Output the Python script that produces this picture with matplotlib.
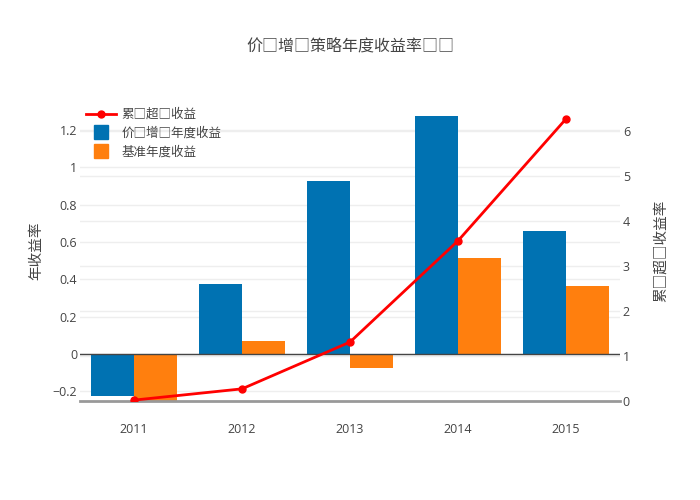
import matplotlib
matplotlib.use("Agg")
import matplotlib.pyplot as plt
from matplotlib.lines import Line2D
import numpy as np

plt.rcParams['font.family'] = ['Open Sans', 'Noto Sans CJK SC', 'DejaVu Sans']

years = ['2011', '2012', '2013', '2014', '2015']
value_growth = [-0.225, 0.375, 0.927, 1.275, 0.659]
benchmark = [-0.262, 0.07, -0.075, 0.514, 0.364]
cum_excess = [0.02, 0.27, 1.31, 3.56, 6.27]

title = "价□增□策略年度收益率□□"
name_line = "累□超□收益"
name_blue = "价□增□年度收益"
name_orange = "基准年度收益"
ylabel_left = "年收益率"
ylabel_right = "累□超□收益率"

txt = '#444444'
grid = '#eeeeee'
blue = '#0072b2'
orange = '#ff7f0e'

fig = plt.figure(figsize=(7, 5), dpi=100)
ax = fig.add_axes([80/700, 99/500, 540/700, 301/500])
ax2 = ax.twinx()

x = np.arange(len(years))
w = 0.4
ax.bar(x - w/2, value_growth, w, color=blue, zorder=2)
ax.bar(x + w/2, benchmark, w, color=orange, zorder=2)
ax.set_xlim(-0.5, 4.5)
lo, hi = -0.252, 1.36
ax.set_ylim(lo, hi)
ax.set_yticks([-0.2, 0, 0.2, 0.4, 0.6, 0.8, 1, 1.2])
ax.set_yticklabels(['−0.2', '0', '0.2', '0.4', '0.6', '0.8', '1', '1.2'])
ax.grid(axis='y', color=grid, lw=1, zorder=0)
ax.axhline(0, color=txt, lw=1, zorder=3)
ax.set_xticks(x)
ax.set_xticklabels(years)

r_lo, r_hi = 0, 6.69
ax2.plot(x, cum_excess, color='#ff0000', lw=2, marker='o', ms=5, zorder=4)
ax2.set_ylim(r_lo, r_hi)
ax2.set_yticks(range(7))
# right-axis gridlines drawn behind the bars
for t in range(1, 7):
    ax.axhline(lo + (t - r_lo) / (r_hi - r_lo) * (hi - lo), color=grid, lw=1, zorder=0)
ax2.set_zorder(ax.get_zorder() + 1)
ax2.patch.set_visible(False)

for a in (ax, ax2):
    for s in a.spines.values():
        s.set_visible(False)
    a.tick_params(length=0, colors=txt, labelsize=9)
ax.spines['bottom'].set_visible(True)
ax.spines['bottom'].set_color('#999999')
ax.spines['bottom'].set_linewidth(2)
ax.tick_params(axis='x', pad=16)
ax.tick_params(axis='y', pad=2)
ax2.tick_params(axis='y', pad=2)

ax.set_ylabel(ylabel_left, color=txt, fontsize=10.5, labelpad=6)
ax2.set_ylabel(ylabel_right, color=txt, fontsize=10.5, labelpad=17)

fig.text(0.5, 0.907, title, ha='center', va='center', color=txt, fontsize=11.5)

handles = [
    Line2D([], [], color='#ff0000', lw=2, marker='o', ms=5),
    Line2D([], [], color=blue, lw=0, marker='s', ms=10),
    Line2D([], [], color=orange, lw=0, marker='s', ms=10),
]
ax2.legend(handles, [name_line, name_blue, name_orange], loc='upper left',
           bbox_to_anchor=(0.0, 0.994), frameon=False, fontsize=9,
           labelcolor=txt, handlelength=2.4, handletextpad=0.4, labelspacing=0.45,
           borderaxespad=0.1)

fig.savefig('out.png', dpi=100)
